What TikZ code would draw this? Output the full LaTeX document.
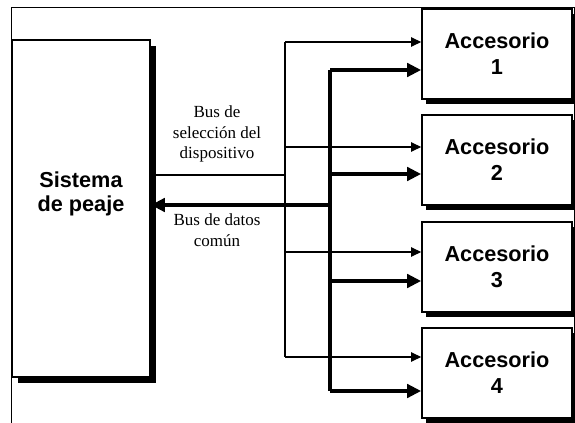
\documentclass[tikz,border=0pt]{standalone}
\usepackage{fontspec}
\setmainfont{Liberation Serif}
\setsansfont{Liberation Sans}
\usetikzlibrary{arrows.meta,shadows}
\tikzset{
  sysbox/.style  ={draw,line width=1.4pt,fill=white,minimum width=4.14cm,minimum height=10.11cm,
                   drop shadow={shadow xshift=0.17cm,shadow yshift=-0.17cm,fill=black,opacity=1}},
  accbox/.style  ={draw,line width=1.4pt,fill=white,minimum width=4.5cm,minimum height=2.7cm,align=center,
                   font=\sffamily\bfseries\fontsize{18.5}{22}\selectfont,
                   drop shadow={shadow xshift=0.12cm,shadow yshift=-0.14cm,fill=black,opacity=1}},
  boxtext/.style ={align=center,font=\sffamily\bfseries\fontsize{18.5}{20.5}\selectfont},
  buslabel/.style={align=center,font=\fontsize{14.5}{17.5}\selectfont},
  selline/.style ={line width=1pt},
  datline/.style ={line width=3.5pt},
  seltip/.style  ={-{Triangle[length=0.3cm,width=0.28cm]}},
  dattip/.style  ={-{Triangle[length=0.42cm,width=0.4cm]}},
  frame/.style   ={line width=0.8pt},
}
\begin{document}
\begin{tikzpicture}[x=0.03cm,y=-0.03cm]
  \useasboundingbox (0,0) rectangle (575,423);
  \draw[frame] (11,423) |- (574,7) -- (574,423);
  \node[sysbox] (sistema) at (81,208.5) {};
  \node[boxtext] (sistematxt) at (81,194) {Sistema\\de peaje};
  \foreach \i/\cy/\ts/\tk in {1/54/42/70,2/160/147/174,3/267/252/281,4/373/357/391}{
     \node[accbox] (acc\i) at (497,\cy) {Accesorio\\\i};
     \coordinate (sel\i) at (285,\ts);
     \coordinate (dat\i) at (330,\tk);
     \draw[selline,seltip] (sel\i) -- (sel\i -| acc\i.west);
     \draw[datline,dattip] (dat\i) -- (dat\i -| acc\i.west);
  }
  % buses
  \coordinate (seljoin) at (285,175);
  \coordinate (datjoin) at (330,205);
  \draw[selline] (sel1) -- (sel4);
  \draw[datline] (dat1) -- (dat4);
  \draw[selline] (seljoin -| sistema.east) -- (seljoin);
  \draw[datline,dattip] (datjoin) -- (datjoin -| sistema.east);
  \node[buslabel] (sellabel) at (217,134) {Bus de\\selección del\\dispositivo};
  \node[buslabel] (datlabel) at (217,230) {Bus de datos\\común};
\end{tikzpicture}
\end{document}
